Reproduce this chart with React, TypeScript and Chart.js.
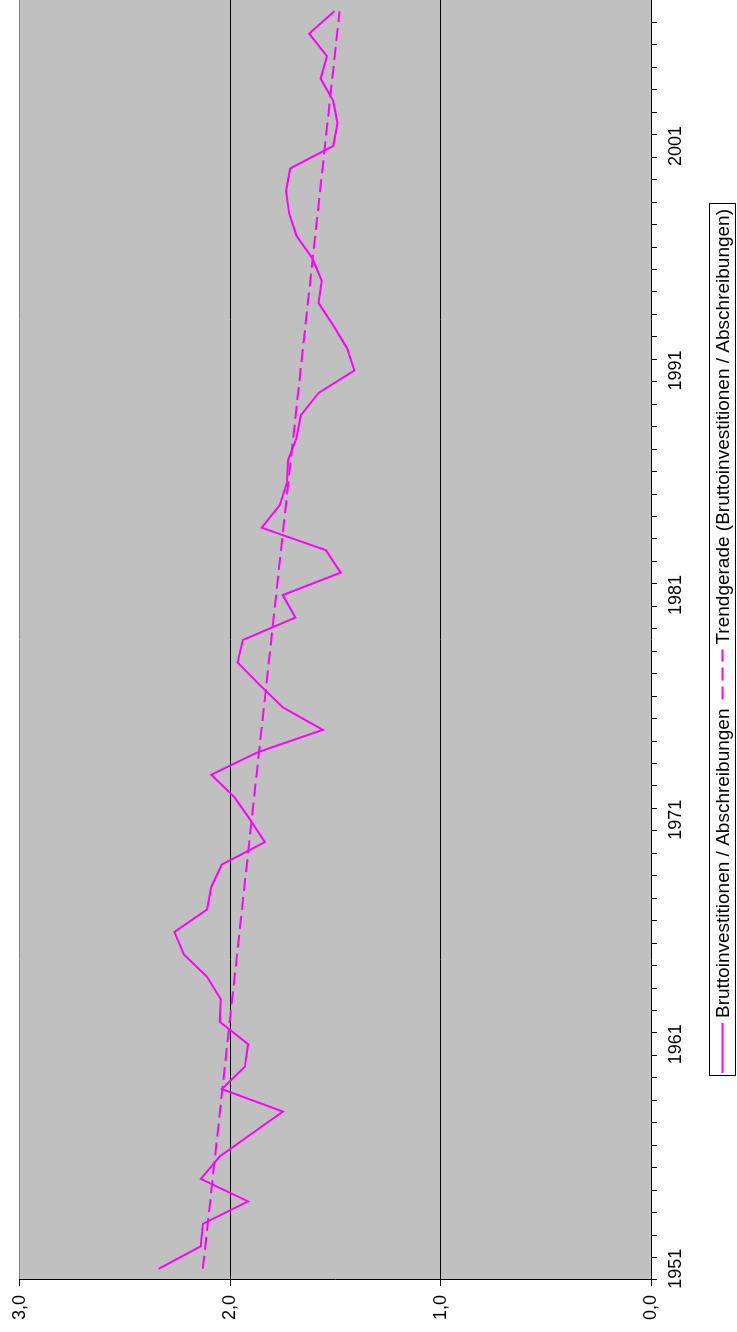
import React, { useEffect, useRef } from 'react';
import { Chart, registerables } from 'chart.js';

Chart.register(...registerables);

// Categories (years)
const years: string[] = [
  '1951', '1952', '1953', '1954', '1955', '1956', '1957', '1958', '1959', '1960',
  '1961', '1962', '1963', '1964', '1965', '1966', '1967', '1968', '1969', '1970',
  '1971', '1972', '1973', '1974', '1975', '1976', '1977', '1978', '1979', '1980',
  '1981', '1982', '1983', '1984', '1985', '1986', '1987', '1988', '1989', '1990',
  '1991', '1992', '1993', '1994', '1995', '1996', '1997', '1998', '1999', '2000',
  '2001', '2002', '2003', '2004', '2005', '2006', '2007',
];

// Labelled years on the category axis
const tickYears: string[] = ['1951', '1961', '1971', '1981', '1991', '2001'];

// Bruttoinvestitionen / Abschreibungen
const ratio: number[] = [
  2.34, 2.14, 2.13, 1.915, 2.14, 2.05, 1.9, 1.75, 2.04, 1.93,
  1.915, 2.05, 2.045, 2.11, 2.22, 2.265, 2.11, 2.09, 2.04, 1.835,
  1.905, 1.98, 2.09, 1.87, 1.56, 1.75, 1.86, 1.965, 1.94, 1.69,
  1.75, 1.475, 1.545, 1.85, 1.765, 1.73, 1.725, 1.685, 1.665, 1.58,
  1.41, 1.445, 1.51, 1.58, 1.565, 1.61, 1.685, 1.72, 1.735, 1.715,
  1.51, 1.49, 1.51, 1.57, 1.54, 1.625, 1.505,
];

// Trend line end points
const trendStart = 2.13;
const trendEnd = 1.48;
const trend: (number | null)[] = years.map((_, i) =>
  i === 0 ? trendStart : i === years.length - 1 ? trendEnd : null
);

// Value-axis ticks
const valueMin = 0;
const valueMax = 3;
const valueStep = 1;

const seriesName = 'Bruttoinvestitionen / Abschreibungen';
const trendName = 'Trendgerade (Bruttoinvestitionen / Abschreibungen)';

const W = 1332;
const H = 737;
const FONT = '"Liberation Sans", Arial, Helvetica, sans-serif';
const AXIS_FONT_SIZE = 18;
const LEGEND_FONT_SIZE = 19;
const MAGENTA = '#FF00FF';
const DASH = [13, 6];

const plotBg = {
  id: 'plotBg',
  beforeDraw(chart: any) {
    const { ctx, chartArea } = chart;
    ctx.save();
    ctx.fillStyle = '#C0C0C0';
    ctx.fillRect(chartArea.left, chartArea.top, chartArea.right - chartArea.left, chartArea.bottom - chartArea.top);
    ctx.restore();
  },
};

const boxedLegend = {
  id: 'boxedLegend',
  afterDraw(chart: any) {
    const { ctx, chartArea } = chart;
    ctx.save();
    ctx.font = `${LEGEND_FONT_SIZE}px ${FONT}`;
    const w1 = ctx.measureText(seriesName).width;
    const w2 = ctx.measureText(trendName).width;
    const sample = 50;
    const padL = 3;
    const gapS = 5;
    const gapItem = 9;
    const padR = 5;
    const total = padL + sample + gapS + w1 + gapItem + sample + gapS + w2 + padR;
    const cx = (chartArea.left + chartArea.right) / 2;
    const left = Math.round(cx - total / 2);
    const top = chart.height - 28;
    const h = 26;
    ctx.fillStyle = '#FFFFFF';
    ctx.fillRect(left, top, total, h);
    ctx.strokeStyle = '#000000';
    ctx.lineWidth = 1;
    ctx.strokeRect(left + 0.5, top + 0.5, Math.round(total), h);
    const cy = top + h / 2 + 0.5;
    let x = left + padL;
    ctx.strokeStyle = MAGENTA;
    ctx.lineWidth = 2;
    ctx.setLineDash([]);
    ctx.beginPath();
    ctx.moveTo(x, cy);
    ctx.lineTo(x + sample, cy);
    ctx.stroke();
    x += sample + gapS;
    ctx.fillStyle = '#000000';
    ctx.textBaseline = 'middle';
    ctx.textAlign = 'left';
    ctx.fillText(seriesName, x, cy + 1);
    x += w1 + gapItem;
    ctx.setLineDash(DASH);
    ctx.beginPath();
    ctx.moveTo(x, cy);
    ctx.lineTo(x + sample, cy);
    ctx.stroke();
    ctx.setLineDash([]);
    x += sample + gapS;
    ctx.fillText(trendName, x, cy + 1);
    ctx.restore();
  },
};

export default function App() {
  const canvasRef = useRef<HTMLCanvasElement | null>(null);

  useEffect(() => {
    const canvas = canvasRef.current;
    if (!canvas) return;
    const chart = new Chart(canvas, {
      type: 'line',
      data: {
        labels: years,
        datasets: [
          {
            label: seriesName,
            data: ratio,
            borderColor: MAGENTA,
            backgroundColor: MAGENTA,
            borderWidth: 2,
            pointRadius: 0,
            fill: false,
            tension: 0,
          },
          {
            label: trendName,
            data: trend,
            borderColor: MAGENTA,
            backgroundColor: MAGENTA,
            borderWidth: 2,
            borderDash: DASH,
            pointRadius: 0,
            fill: false,
            spanGaps: true,
            tension: 0,
          },
        ],
      },
      options: {
        responsive: false,
        animation: false,
        devicePixelRatio: 1,
        events: [],
        layout: { padding: { top: 17, right: 0, left: 0, bottom: 0 } },
        plugins: {
          legend: { display: false },
          tooltip: { enabled: false },
        },
        scales: {
          x: {
            type: 'category',
            offset: true,
            grid: {
              offset: true,
              drawOnChartArea: false,
              drawTicks: true,
              tickLength: 6,
              color: '#000000',
              tickColor: '#000000',
            },
            border: { display: true, color: '#000000', width: 1 },
            ticks: {
              autoSkip: false,
              maxRotation: 0,
              minRotation: 0,
              padding: 8,
              color: '#000000',
              font: { family: FONT, size: AXIS_FONT_SIZE },
              callback: (_v: any, i: number) => (tickYears.includes(years[i]) ? years[i] : ''),
            },
            afterFit: (s: any) => {
              s.height = 86;
            },
          },
          y: {
            min: valueMin,
            max: valueMax,
            grid: {
              drawTicks: true,
              tickLength: 6,
              tickColor: '#000000',
              lineWidth: 1,
              color: (c: any) => {
                const v = c.tick ? c.tick.value : 0;
                if (v === valueMin) return 'rgba(0,0,0,0)';
                if (v === valueMax) return '#808080';
                return '#000000';
              },
            },
            border: { display: true, color: '#000000', width: 1 },
            ticks: {
              stepSize: valueStep,
              padding: 9,
              color: '#000000',
              font: { family: FONT, size: AXIS_FONT_SIZE },
              callback: (v: any) => Number(v).toFixed(1).replace('.', ','),
            },
            afterFit: (s: any) => {
              s.width = 52;
            },
          },
        },
      },
      plugins: [plotBg, boxedLegend],
    });
    return () => chart.destroy();
  }, []);

  return (
    <div
      style={{
        position: 'fixed',
        left: 0,
        top: 0,
        width: H,
        height: W,
        overflow: 'hidden',
        background: '#FFFFFF',
      }}
    >
      <div
        style={{
          position: 'absolute',
          left: 0,
          top: 0,
          width: W,
          height: H,
          transformOrigin: '0 0',
          transform: `translate(0px, ${W}px) rotate(-90deg)`,
        }}
      >
        <canvas ref={canvasRef} width={W} height={H} style={{ display: 'block', width: W, height: H }} />
      </div>
    </div>
  );
}
